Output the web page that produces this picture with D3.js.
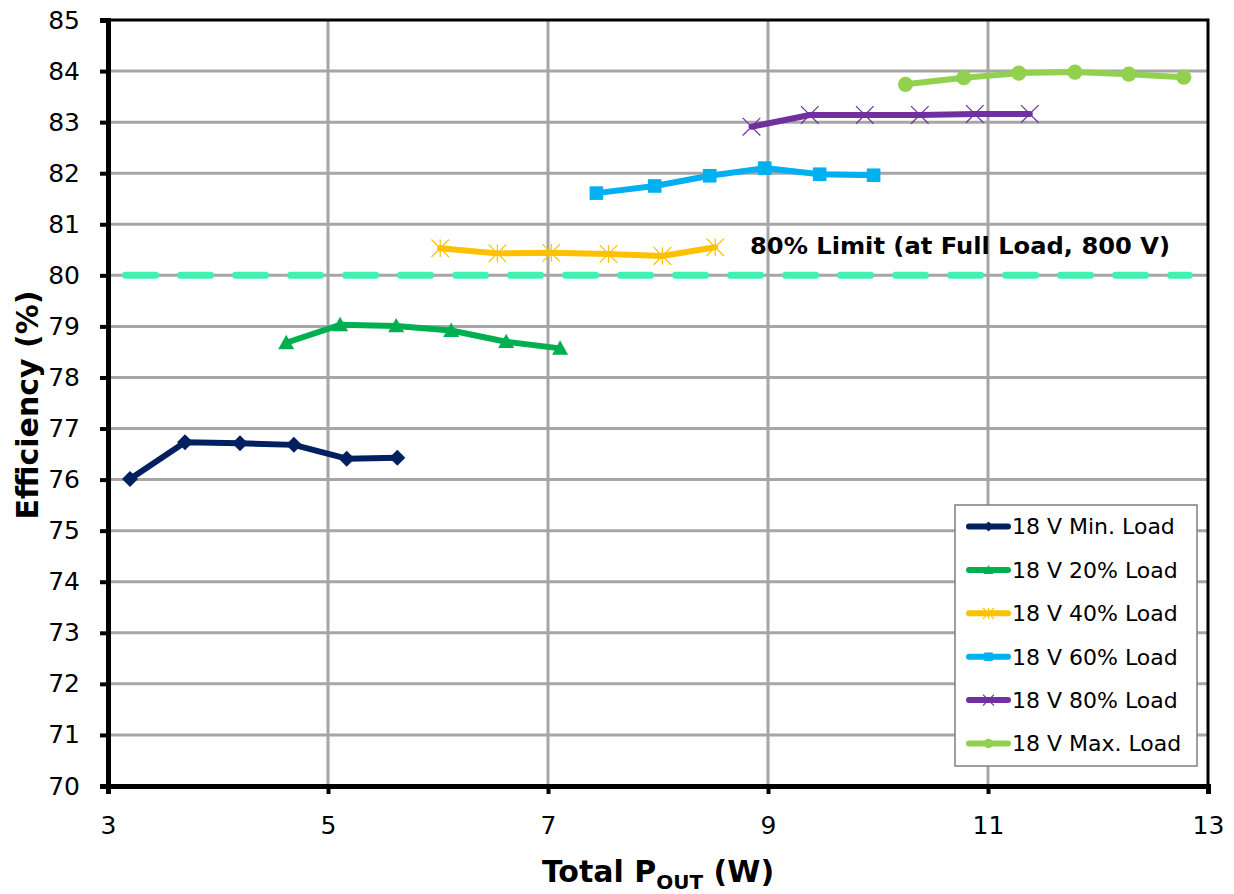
<!DOCTYPE html>
<html>
<head>
<meta charset="utf-8">
<script src="https://cdn.jsdelivr.net/npm/d3@7"></script>
<style>
  html, body { margin: 0; padding: 0; background: #fff; }
  svg { display: block; font-family: "DejaVu Sans", Verdana, sans-serif; }
</style>
</head>
<body>
<svg id="chart" width="1234" height="894"></svg>
<script>
// Efficiency vs. total output power at 18 V input, per load level
const seriesNames = ["18 V Min. Load", "18 V 20% Load", "18 V 40% Load", "18 V 60% Load", "18 V 80% Load", "18 V Max. Load"];
const seriesColors = ["#002060", "#00B050", "#FFC000", "#00B0F0", "#7030A0", "#92D050"];
const seriesMarkers = ["diamond", "triangle", "star", "square", "cross", "circle"];

const minLoadX = [3.20, 3.70, 4.20, 4.69, 5.17, 5.63];
const minLoadY = [76.01, 76.73, 76.71, 76.68, 76.41, 76.43];
const load20X = [4.62, 5.11, 5.62, 6.12, 6.62, 7.11];
const load20Y = [78.68, 79.03, 79.01, 78.92, 78.70, 78.57];
const load40X = [6.02, 6.54, 7.03, 7.55, 8.04, 8.52];
const load40Y = [80.53, 80.43, 80.44, 80.42, 80.38, 80.55];
const load60X = [7.44, 7.97, 8.47, 8.97, 9.47, 9.96];
const load60Y = [81.61, 81.75, 81.95, 82.10, 81.98, 81.96];
const load80X = [8.85, 9.38, 9.88, 10.38, 10.88, 11.38];
const load80Y = [82.91, 83.14, 83.14, 83.14, 83.16, 83.16];
const maxLoadX = [10.25, 10.78, 11.28, 11.79, 12.28, 12.78];
const maxLoadY = [83.74, 83.87, 83.96, 83.98, 83.94, 83.88];

const seriesX = [minLoadX, load20X, load40X, load60X, load80X, maxLoadX];
const seriesY = [minLoadY, load20Y, load40Y, load60Y, load80Y, maxLoadY];

const xTicks = [3, 5, 7, 9, 11, 13];
const yTicks = [70, 71, 72, 73, 74, 75, 76, 77, 78, 79, 80, 81, 82, 83, 84, 85];
const limitValue = 80;
const limitRange = [3.16, 12.83];
const limitLabel = "80% Limit (at Full Load, 800 V)";

const svg = d3.select("#chart");
const margin = { left: 108, right: 26, top: 20, bottom: 108 };
const W = 1234, H = 894;
const x = d3.scaleLinear().domain([3, 13]).range([margin.left, W - margin.right]);
const y = d3.scaleLinear().domain([70, 85]).range([H - margin.bottom, margin.top]);

// grid
const grid = svg.append("g").attr("stroke", "#A6A6A6").attr("stroke-width", 3);
grid.selectAll("line.h").data(yTicks.slice(1, -1)).join("line")
  .attr("x1", x(3)).attr("x2", x(13)).attr("y1", d => y(d)).attr("y2", d => y(d));
grid.selectAll("line.v").data(xTicks.slice(1, -1)).join("line")
  .attr("x1", d => x(d)).attr("x2", d => x(d)).attr("y1", y(70)).attr("y2", y(85));

// plot frame
svg.append("rect").attr("x", x(3)).attr("y", y(85))
  .attr("width", x(13) - x(3)).attr("height", y(70) - y(85))
  .attr("fill", "none").attr("stroke", "#000").attr("stroke-width", 3);

// axes
const xAxis = svg.append("g").attr("transform", `translate(0,${y(70)})`)
  .call(d3.axisBottom(x).tickValues(xTicks).tickSize(8).tickPadding(22).tickFormat(d3.format("d")));
const yAxis = svg.append("g").attr("transform", `translate(${x(3)},0)`)
  .call(d3.axisLeft(y).tickValues(yTicks).tickSize(8).tickPadding(20).tickFormat(d3.format("d")));
[xAxis, yAxis].forEach(g => {
  g.select(".domain").attr("stroke", "#000").attr("stroke-width", 5);
  g.selectAll(".tick line").attr("stroke", "#000").attr("stroke-width", 4);
  g.selectAll(".tick text").attr("font-family", "DejaVu Sans, Verdana, sans-serif")
    .attr("font-size", 25).attr("fill", "#000");
});

// limit line
svg.append("line")
  .attr("x1", x(limitRange[0])).attr("x2", x(limitRange[1]))
  .attr("y1", y(limitValue)).attr("y2", y(limitValue))
  .attr("stroke", "#3FF2B2").attr("stroke-width", 7)
  .attr("stroke-dasharray", "30 25").attr("stroke-linecap", "round");

svg.append("text").attr("x", 750).attr("y", 254)
  .attr("font-size", 23).attr("font-weight", "bold").attr("fill", "#000")
  .attr("textLength", 420).attr("lengthAdjust", "spacingAndGlyphs")
  .text(limitLabel);

// marker shapes
function drawMarker(g, type, cx, cy, color, s) {
  if (type === "diamond") {
    g.append("path").attr("d", `M${cx},${cy - s}L${cx + s},${cy}L${cx},${cy + s}L${cx - s},${cy}Z`).attr("fill", color);
  } else if (type === "triangle") {
    g.append("path").attr("d", `M${cx},${cy - s}L${cx + s},${cy + s * 0.8}L${cx - s},${cy + s * 0.8}Z`).attr("fill", color);
  } else if (type === "square") {
    g.append("rect").attr("x", cx - s * 0.85).attr("y", cy - s * 0.85).attr("width", s * 1.7).attr("height", s * 1.7).attr("fill", color);
  } else if (type === "circle") {
    g.append("circle").attr("cx", cx).attr("cy", cy).attr("r", s * 0.95).attr("fill", color);
  } else if (type === "star") {
    const r = s * 1.1;
    g.append("path").attr("d", `M${cx - r},${cy - r}L${cx + r},${cy + r}M${cx - r},${cy + r}L${cx + r},${cy - r}M${cx},${cy - r}L${cx},${cy + r}`)
      .attr("stroke", color).attr("stroke-width", 1.2).attr("fill", "none");
  } else if (type === "cross") {
    const r = s * 1.1;
    g.append("path").attr("d", `M${cx - r},${cy - r}L${cx + r},${cy + r}M${cx - r},${cy + r}L${cx + r},${cy - r}`)
      .attr("stroke", color).attr("stroke-width", 1.2).attr("fill", "none");
  }
}

// series
const line = d3.line().x(d => x(d[0])).y(d => y(d[1]));
seriesNames.forEach((name, i) => {
  const pts = seriesX[i].map((v, j) => [v, seriesY[i][j]]);
  const g = svg.append("g");
  g.append("path").datum(pts).attr("d", line)
    .attr("fill", "none").attr("stroke", seriesColors[i]).attr("stroke-width", 6)
    .attr("stroke-linejoin", "round").attr("stroke-linecap", "round");
  pts.forEach(p => drawMarker(g, seriesMarkers[i], x(p[0]), y(p[1]), seriesColors[i], 8));
});

// legend
const lg = svg.append("g");
lg.append("rect").attr("x", 955).attr("y", 505).attr("width", 242).attr("height", 261)
  .attr("fill", "#fff").attr("stroke", "#7F7F7F").attr("stroke-width", 1.5);
seriesNames.forEach((name, i) => {
  const cy = 526.5 + i * 43.4;
  lg.append("line").attr("x1", 969).attr("x2", 1008).attr("y1", cy).attr("y2", cy)
    .attr("stroke", seriesColors[i]).attr("stroke-width", 6).attr("stroke-linecap", "round");
  drawMarker(lg, seriesMarkers[i], 988.5, cy, seriesColors[i], 5);
  lg.append("text").attr("x", 1012).attr("y", cy).attr("dy", "0.36em")
    .attr("font-size", 22).attr("fill", "#000").text(name);
});

// axis titles
svg.append("text").attr("transform", `translate(38,${(y(70) + y(85)) / 2 + 2}) rotate(-90)`)
  .attr("text-anchor", "middle").attr("font-size", 30).attr("font-weight", "bold").attr("fill", "#000")
  .text("Efficiency (%)");

const xt = svg.append("text").attr("x", 658).attr("y", 882)
  .attr("text-anchor", "middle").attr("font-size", 30).attr("font-weight", "bold").attr("fill", "#000");
xt.append("tspan").text("Total P");
xt.append("tspan").attr("font-size", 20).attr("dy", 7).text("OUT");
xt.append("tspan").attr("dy", -7).text(" (W)");
</script>
</body>
</html>
